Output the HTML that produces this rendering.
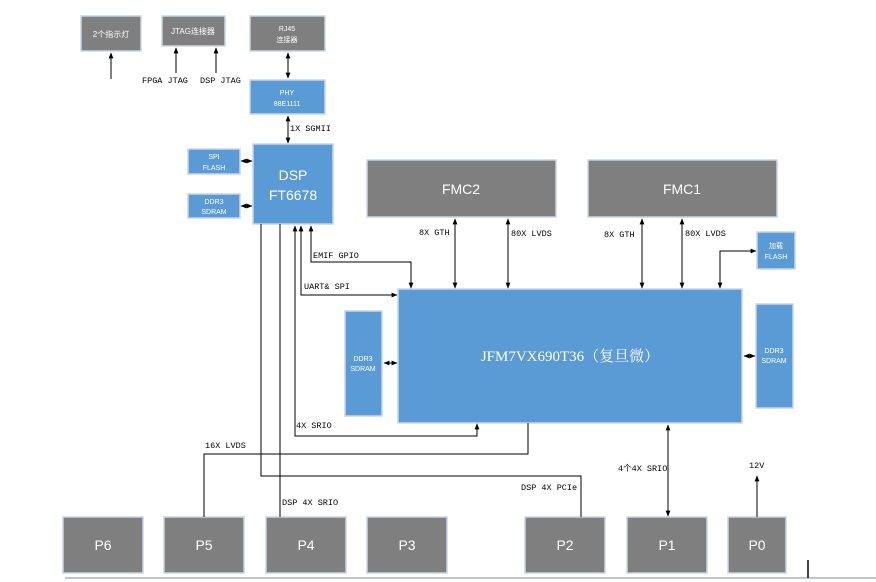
<!DOCTYPE html>
<html><head><meta charset="utf-8"><style>
html,body{margin:0;padding:0;background:#fff;width:876px;height:582px;overflow:hidden}
svg text{font-family:"Liberation Sans","Noto Sans CJK SC",sans-serif}
svg text.m{font-family:"Liberation Mono","Noto Sans CJK SC",monospace;font-size:8.5px;fill:#000}
svg text.s{font-family:"Liberation Serif","Noto Serif CJK SC",serif}
</style></head><body>
<svg width="876" height="582" viewBox="0 0 876 582" xmlns="http://www.w3.org/2000/svg">
<defs>
<marker id="a" viewBox="0 0 10 10" refX="9" refY="5" markerWidth="6" markerHeight="6" orient="auto-start-reverse"><path d="M0,1 L10,5 L0,9 z" fill="#000"/></marker>
</defs>
<g stroke="#c9d6e6" stroke-width="1.5">
<rect x="81" y="16" width="60" height="35" fill="#7f7f7f"/>
<rect x="162" y="16" width="63" height="30" fill="#7f7f7f"/>
<rect x="250" y="16" width="75" height="35" fill="#7f7f7f"/>
<rect x="250" y="80" width="75" height="34" fill="#5b9bd5"/>
<rect x="253" y="144" width="80" height="80" fill="#5b9bd5"/>
<rect x="188" y="149" width="52" height="25" fill="#5b9bd5"/>
<rect x="188" y="194" width="52" height="24" fill="#5b9bd5"/>
<rect x="367" y="160" width="189" height="57" fill="#7f7f7f"/>
<rect x="588" y="160" width="189" height="57" fill="#7f7f7f"/>
<rect x="398" y="289" width="344" height="134" fill="#5b9bd5"/>
<rect x="757" y="232" width="38" height="37" fill="#5b9bd5"/>
<rect x="345" y="311" width="37" height="105" fill="#5b9bd5"/>
<rect x="756" y="304" width="37" height="104" fill="#5b9bd5"/>
<rect x="63" y="517" width="80" height="56" fill="#7f7f7f"/>
<rect x="164" y="517" width="80" height="56" fill="#7f7f7f"/>
<rect x="266" y="517" width="80" height="56" fill="#7f7f7f"/>
<rect x="367" y="517" width="80" height="56" fill="#7f7f7f"/>
<rect x="525" y="517" width="80" height="56" fill="#7f7f7f"/>
<rect x="627" y="517" width="80" height="56" fill="#7f7f7f"/>
<rect x="728" y="517" width="58" height="56" fill="#7f7f7f"/>
</g>
<g fill="#fff" text-anchor="middle">
<text x="111" y="37" font-size="8">2个指示灯</text>
<text x="193" y="34" font-size="8">JTAG连接器</text>
<text x="287" y="31" font-size="7">RJ45</text><text x="287" y="42" font-size="7">连接器</text>
<text x="287" y="95" font-size="7">PHY</text><text x="287" y="106" font-size="7">88E1111</text>
<text x="293" y="180" font-size="14">DSP</text><text x="293" y="200" font-size="14">FT6678</text>
<text x="214" y="159" font-size="7">SPI</text><text x="214" y="170" font-size="7">FLASH</text>
<text x="214" y="204" font-size="7">DDR3</text><text x="214" y="214" font-size="7">SDRAM</text>
<text x="461" y="194" font-size="14">FMC2</text>
<text x="682" y="194" font-size="14">FMC1</text>
<text x="570" y="361" font-size="15" class="s">JFM7VX690T36（复旦微）</text>
<text x="776" y="248" font-size="7">加载</text><text x="776" y="259" font-size="7">FLASH</text>
<text x="363" y="361" font-size="7">DDR3</text><text x="363" y="371" font-size="7">SDRAM</text>
<text x="774" y="353" font-size="7">DDR3</text><text x="774" y="363" font-size="7">SDRAM</text>
<g font-size="14"><text x="103" y="550">P6</text><text x="204" y="550">P5</text><text x="306" y="550">P4</text><text x="407" y="550">P3</text><text x="565" y="550">P2</text><text x="667" y="550">P1</text><text x="757" y="550">P0</text></g>
</g>
<g stroke="#000" stroke-width="1" fill="none">
<line x1="111" y1="79" x2="111" y2="53" marker-end="url(#a)"/>
<line x1="176" y1="73" x2="176" y2="48" marker-end="url(#a)"/>
<line x1="216" y1="73" x2="216" y2="48" marker-end="url(#a)"/>
<line x1="288" y1="53" x2="288" y2="78" marker-start="url(#a)" marker-end="url(#a)"/>
<line x1="288" y1="116" x2="288" y2="143" marker-start="url(#a)" marker-end="url(#a)"/>
<line x1="241" y1="161" x2="252" y2="161" marker-start="url(#a)" marker-end="url(#a)"/>
<line x1="241" y1="206" x2="252" y2="206" marker-start="url(#a)" marker-end="url(#a)"/>
<polyline points="311,226 311,262 411,262 411,288" marker-start="url(#a)" marker-end="url(#a)"/>
<polyline points="301,226 301,295 397,295" marker-start="url(#a)" marker-end="url(#a)"/>
<polyline points="295,226 295,436 477,436 477,424" marker-start="url(#a)" marker-end="url(#a)"/>
<polyline points="528,423 528,454 204,454 204,517"/>
<polyline points="261,224 261,476 581,476 581,517"/>
<line x1="280" y1="224" x2="280" y2="517"/>
<line x1="455" y1="219" x2="455" y2="288" marker-start="url(#a)" marker-end="url(#a)"/>
<line x1="508" y1="219" x2="508" y2="288" marker-start="url(#a)" marker-end="url(#a)"/>
<line x1="642" y1="219" x2="642" y2="288" marker-start="url(#a)" marker-end="url(#a)"/>
<line x1="682" y1="219" x2="682" y2="288" marker-start="url(#a)" marker-end="url(#a)"/>
<polyline points="720,288 720,251 756,251" marker-start="url(#a)" marker-end="url(#a)"/>
<line x1="384" y1="363" x2="397" y2="363" marker-start="url(#a)" marker-end="url(#a)"/>
<line x1="744" y1="356" x2="755" y2="356" marker-start="url(#a)" marker-end="url(#a)"/>
<line x1="668" y1="425" x2="668" y2="516" marker-start="url(#a)" marker-end="url(#a)"/>
<line x1="757" y1="517" x2="757" y2="476" marker-end="url(#a)"/>
</g>
<line x1="65" y1="578" x2="876" y2="578" stroke="#aab4c0" stroke-width="1.5"/>
<line x1="808" y1="560" x2="808" y2="578" stroke="#000" stroke-width="1.5"/>
<text x="142" y="83" class="m">FPGA JTAG</text>
<text x="200" y="83" class="m">DSP JTAG</text>
<text x="290" y="131" class="m">1X SGMII</text>
<text x="313" y="258" class="m">EMIF GPIO</text>
<text x="304" y="289" class="m">UART&amp; SPI</text>
<text x="296" y="428" class="m">4X SRIO</text>
<text x="205" y="448" class="m">16X LVDS</text>
<text x="521" y="490" class="m">DSP 4X PCIe</text>
<text x="282" y="505" class="m">DSP 4X SRIO</text>
<text x="618" y="471" class="m">4个4X SRIO</text>
<text x="749" y="468" class="m">12V</text>
<text x="419" y="235" class="m">8X GTH</text>
<text x="511" y="236" class="m">80X LVDS</text>
<text x="604" y="237" class="m">8X GTH</text>
<text x="685" y="236" class="m">80X LVDS</text>
</svg>
</body></html>
